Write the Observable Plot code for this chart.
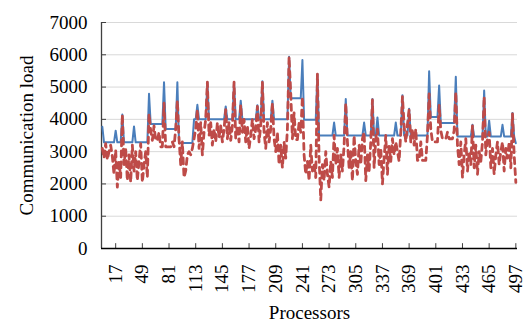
<!DOCTYPE html>
<html><head><meta charset="utf-8">
<script src="https://cdn.jsdelivr.net/npm/d3@7"></script>
<script src="https://cdn.jsdelivr.net/npm/@observablehq/plot@0.6"></script>
<style>html,body{margin:0;padding:0;background:#fff}</style>
</head><body><div id="chart"></div>
<script>
// Processor indices sampled every second processor (1, 3, ..., 497)
const processors = d3.range(1, 498, 2);

// Blue solid series
const loadBlue = [
3770,3290,3290,3290,3290,3290,3290,3290,3650,3290,
3290,3290,4150,3290,3290,3290,3290,3290,3290,3780,
3290,3290,3290,3290,3290,3290,3290,3290,4790,3860,
3860,3860,3860,3860,3860,3860,3860,5150,3700,3700,
3700,3700,3700,3700,3700,5150,3270,3270,3270,3270,
3270,3270,3270,3270,3270,4000,4000,4450,4000,4000,
4000,4000,4000,5150,4000,4000,4000,4000,4000,4000,
4000,4000,4000,4000,4400,4000,4000,4000,4000,5150,
4000,4000,4000,4580,4000,4000,4000,4000,4000,4000,
4000,4000,4000,4440,4000,4000,5180,4000,4000,4000,
4000,4000,4580,4000,4000,4000,4000,4000,4000,4000,
4000,4000,5940,4650,4650,4650,4650,4650,4650,4650,
5840,3990,3990,3990,3990,3990,3990,3990,3990,5400,
3500,3500,3500,3500,3500,3500,3500,3500,3500,3900,
3500,3500,3500,3500,3500,3500,4630,3500,3500,3500,
3500,3500,3500,3500,3500,3500,3500,3900,3500,3500,
3500,3500,4630,3500,3500,4060,3500,3500,3500,3500,
3500,3500,3500,3500,3500,3500,3900,3500,3500,3500,
4750,3500,3500,3500,4330,3500,3500,3500,3500,3500,
3500,3500,3500,3500,3500,3500,5490,4070,4070,4070,
4070,4070,5045,3890,3890,3890,3890,3890,3890,3890,
3890,3890,5320,3470,3470,3470,3470,3470,3470,3470,
3470,3470,3830,3470,3470,3470,3470,3470,3470,4890,
3470,3470,3960,3470,3470,3470,3470,3470,3470,3470,
3830,3470,3470,3470,3470,3470,4200,3470,3260
];

// Red dashed series
const loadRed = [
3100,2800,3250,2750,3000,3200,2850,2300,3050,1900,
2700,2200,4150,2600,3100,2100,2900,2050,3200,2400,
3000,2100,2700,3250,2050,2600,3000,2200,4170,3650,
3350,3800,3350,3350,3600,3150,3150,4500,3150,3150,
3150,3150,3300,3150,3700,4580,3400,2600,3300,2200,
2400,2900,3000,2900,3100,3400,3700,4300,3100,3900,
2900,3600,4000,5150,3500,3900,3200,3700,3300,3900,
3450,3800,3300,3700,4300,3400,3900,3350,3800,5150,
3400,3800,3300,4450,3600,4000,3300,3800,3100,3500,
4000,3400,3700,4400,3300,3800,5150,3600,3100,3900,
3300,3700,4500,3400,3000,3600,2600,3200,2500,3300,
2800,3700,5940,4800,3400,4200,3370,3370,3900,3600,
4700,2900,2300,2700,2100,3200,2400,2600,2200,5400,
2800,1500,2600,2100,3000,2300,1900,2700,2200,3500,
2600,3100,2200,2900,2400,3200,4500,3300,2500,3000,
2100,3500,2700,2300,3200,2600,3400,3600,2100,2900,
2400,3300,4600,2500,3400,3700,2600,3100,2000,2800,
3500,2300,3200,2700,3400,2900,3300,3000,2700,3600,
4700,3800,3300,3850,4300,3300,3700,3200,3700,2730,
2730,3300,2730,2730,2730,3500,4790,3700,3300,3300,
3300,3300,4440,3650,3400,3400,3400,3600,3400,3400,
3400,3650,4840,3200,2600,3300,2200,2900,3400,2400,
3000,2600,3800,2500,3200,2300,3000,2700,3300,4700,
2900,3400,3600,2500,3100,2300,2900,3300,2600,3000,
3300,2400,3100,2800,3300,2500,4170,2900,2050
];

const xTicks = [17,49,81,113,145,177,209,241,273,305,337,369,401,433,465,497];
const yTicks = [0,1000,2000,3000,4000,5000,6000,7000];

const rows = processors.map((p, i) => ({processor: p, blue: loadBlue[i], red: loadRed[i]}));

const chart = Plot.plot({
  width: 526,
  height: 321,
  marginLeft: 101,
  marginRight: 9,
  marginTop: 22,
  marginBottom: 73,
  style: {fontFamily: "'Liberation Serif', 'Times New Roman', serif", background: "#fff", color: "#000"},
  x: {domain: [0, 499]},
  y: {domain: [0, 7000]},
  marks: [
    Plot.gridY(yTicks, {stroke: "#d9d9d9", strokeOpacity: 1}),
    Plot.axisY(yTicks, {tickSize: 0, tickPadding: 14, fontSize: 19, tickFormat: d3.format("d"), label: "Communication load", labelAnchor: "center", labelArrow: "none", labelOffset: 82}),
    Plot.axisX(xTicks, {tickSize: 0, tickPadding: 16, tickRotate: -90, fontSize: 19, label: "Processors", labelAnchor: "center", labelArrow: "none", labelOffset: 70}),
    Plot.ruleY(yTicks, {x1: 0, x2: 6, stroke: "#404040"}),
    Plot.ruleX(xTicks, {y1: 0, y2: 150, stroke: "#404040"}),
    Plot.ruleX([0], {stroke: "#404040", strokeWidth: 1.3}),
    Plot.ruleY([0], {stroke: "#000", strokeWidth: 1.3}),
    Plot.line(rows, {x: "processor", y: "blue", stroke: "#4a7ebb", strokeWidth: 2}),
    Plot.line(rows, {x: "processor", y: "red", stroke: "#be4b48", strokeWidth: 2.8, strokeDasharray: "6,5"})
  ]
});
document.getElementById("chart").appendChild(chart);
</script>
</body></html>
